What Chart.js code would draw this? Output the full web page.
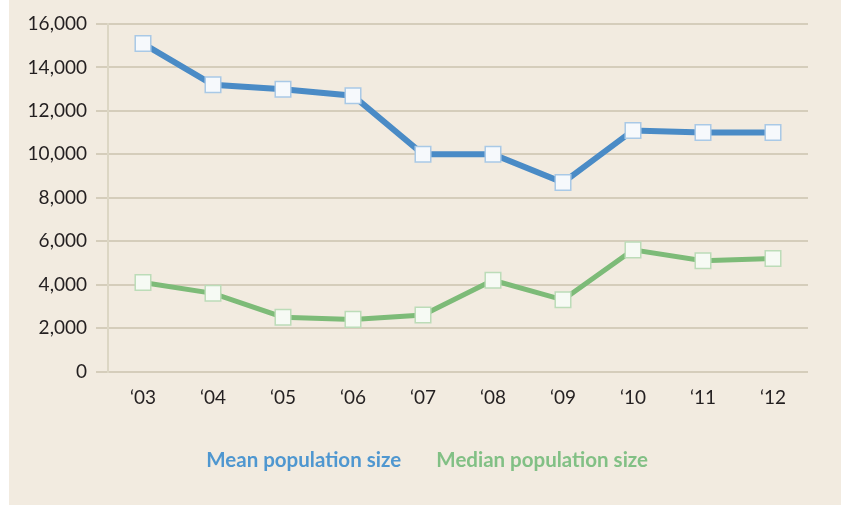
<!DOCTYPE html>
<html>
<head>
<meta charset="utf-8">
<script src="https://cdn.jsdelivr.net/npm/chart.js@4"></script>
<style>
  body { margin: 0; background: #fff; }
  #wrap { position: absolute; left: 9px; top: 0; width: 832px; height: 505px; background: #f2ebe0; }
</style>
</head>
<body>
<div id="wrap"><canvas id="chart" width="832" height="505"></canvas></div>
<script>
var years = ['\u201803', '\u201804', '\u201805', '\u201806', '\u201807', '\u201808', '\u201809', '\u201810', '\u201811', '\u201812'];
var meanSize = [15100, 13200, 13000, 12700, 10000, 10000, 8700, 11100, 11000, 11000];
var medianSize = [4100, 3600, 2500, 2400, 2600, 4200, 3300, 5600, 5100, 5200];
var seriesNames = ['Mean population size', 'Median population size'];
var yTicks = [0, 2000, 4000, 6000, 8000, 10000, 12000, 14000, 16000];

var blue = '#4a8bc6';
var green = '#7dbb78';

var ctx = document.getElementById('chart');
var myChart = new Chart(ctx, {
  type: 'line',
  data: {
    labels: years,
    datasets: [
      {
        label: seriesNames[0],
        data: meanSize,
        borderColor: blue,
        borderWidth: 6,
        pointStyle: 'rect',
        pointRadius: 11,
        pointBackgroundColor: '#f6f9fc',
        pointBorderColor: '#a9c9e6',
        pointBorderWidth: 1.5
      },
      {
        label: seriesNames[1],
        data: medianSize,
        borderColor: green,
        borderWidth: 5,
        pointStyle: 'rect',
        pointRadius: 11,
        pointBackgroundColor: '#f6faf4',
        pointBorderColor: '#bcdcb8',
        pointBorderWidth: 1.5
      }
    ]
  },
  options: {
    responsive: false,
    animation: false,
    layout: { padding: { top: 24, right: 6, bottom: 24, left: 0 } },
    plugins: {
      tooltip: { enabled: false },
      legend: {
        position: 'bottom',
        labels: {
          boxWidth: 0,
          padding: 25,
          font: { family: 'Lato', size: 20.5, weight: 'bold' },
          generateLabels: function(chart) {
            return chart.data.datasets.map(function(ds, i) {
              return {
                text: ds.label,
                fontColor: i === 0 ? '#4f97d0' : '#82c085',
                fillStyle: 'rgba(0,0,0,0)',
                strokeStyle: 'rgba(0,0,0,0)',
                lineWidth: 0,
                datasetIndex: i
              };
            });
          }
        }
      }
    },
    scales: {
      x: {
        offset: true,
        grid: { display: false },
        border: { display: false },
        ticks: {
          color: '#231f20',
          padding: 7,
          font: { family: 'Lato', size: 19 }
        },
        afterFit: function(scale) { scale.height = 54; }
      },
      y: {
        min: 0,
        max: 16000,
        afterBuildTicks: function(scale) {
          scale.ticks = yTicks.map(function(v) { return { value: v }; });
        },
        grid: { color: '#d5cdbb', lineWidth: 2, tickLength: 12 },
        border: { display: true, color: '#dcd6c4', width: 2 },
        ticks: {
          color: '#231f20',
          padding: 9,
          font: { family: 'Lato', size: 19 },
          callback: function(v) { return v.toLocaleString('en-US'); }
        },
        afterFit: function(scale) { scale.width = 99; }
      },
      // empty right-hand spacer so the plot ends where the print one does
      spacer: {
        type: 'linear',
        position: 'right',
        grid: { display: false },
        border: { display: false },
        ticks: { display: false },
        afterFit: function(scale) { scale.width = 27; }
      }
    }
  }
});
</script>
</body>
</html>
